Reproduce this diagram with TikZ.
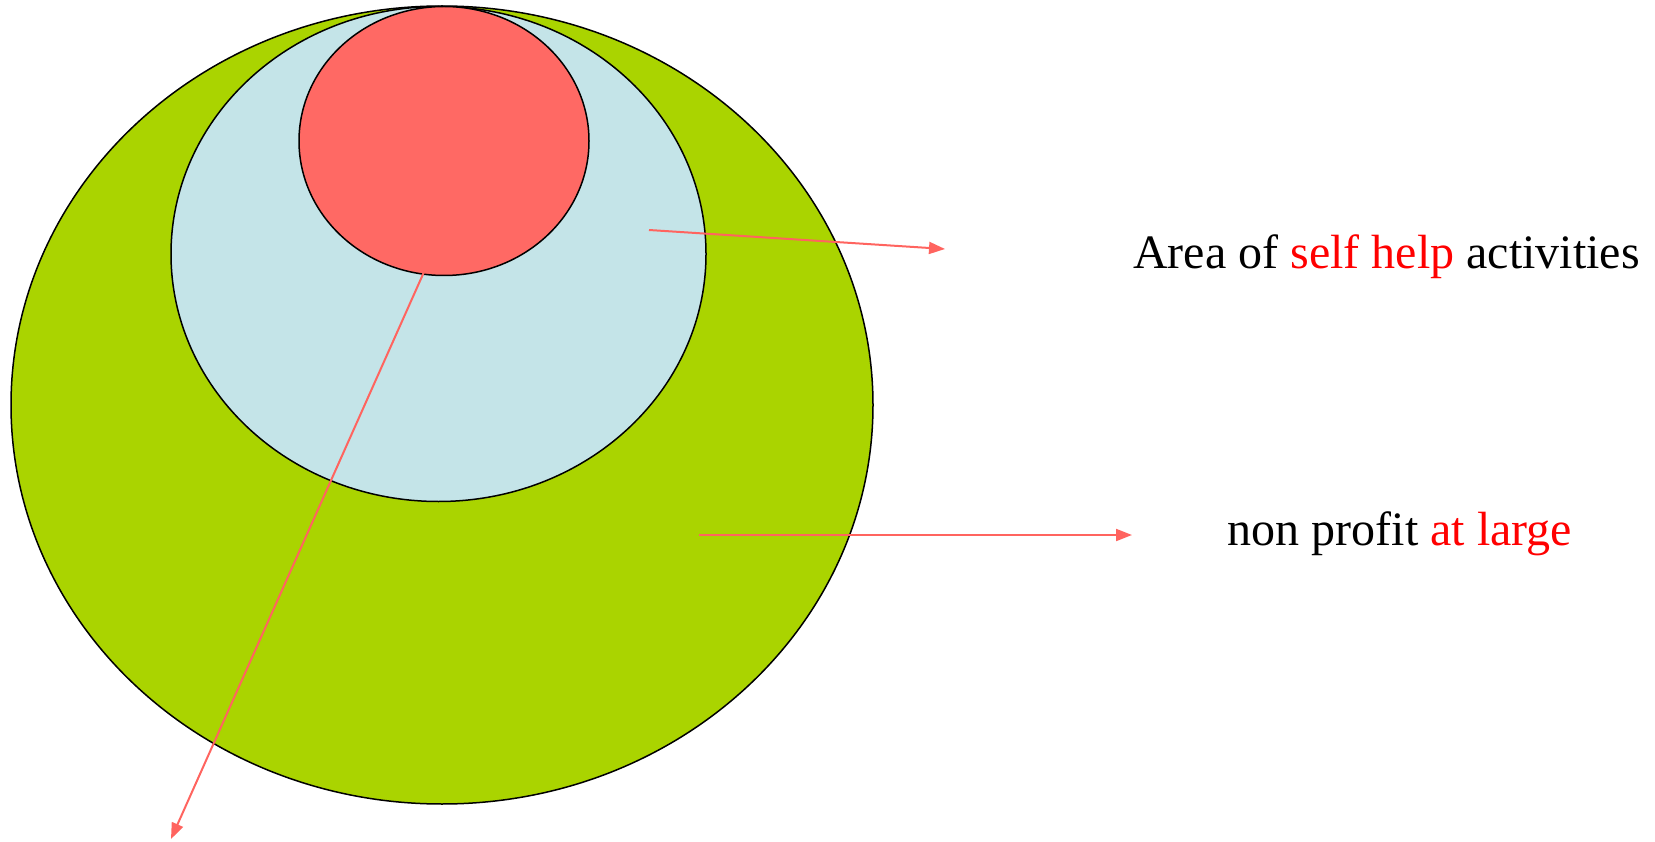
\documentclass[tikz,border=0pt]{standalone}
\usepackage{fontspec}
\setmainfont{Liberation Serif}
\usetikzlibrary{shapes.geometric,arrows.meta}
\definecolor{outergreen}{RGB}{170,212,0}
\definecolor{midblue}{RGB}{196,228,232}
\definecolor{innerred}{RGB}{255,105,100}
\definecolor{arrowred}{RGB}{255,100,95}
\definecolor{txtred}{RGB}{255,0,0}
\tikzset{
  blob/.style={ellipse, draw=black, line width=1.5pt, inner sep=0pt},
  pointer/.style={draw=arrowred, line width=2pt, -{Triangle[length=16pt,width=12pt]}},
  label/.style={anchor=base, inner sep=0pt, font=\fontsize{48}{58}\selectfont}
}
\begin{document}
\begin{tikzpicture}[x=1pt,y=-1pt]
\useasboundingbox (0,0) rectangle (1655,842);
\node[blob, fill=outergreen, minimum width=862pt, minimum height=798pt] (outer) at (442,405) {};
\node[blob, fill=midblue, minimum width=535pt, minimum height=495pt] (middle) at (438.5,254) {};
\node[blob, fill=innerred, minimum width=290pt, minimum height=269pt] (inner) at (444,141) {};
\coordinate (s1) at (649,230);
\coordinate (e1) at (945,249);
\coordinate (s2) at (699,535);
\coordinate (e2) at (1132,535);
\coordinate (s3) at (424,272);
\coordinate (e3) at (171,839);
\draw[pointer] (s1) -- (e1);
\draw[pointer] (s2) -- (e2);
\draw[pointer] (s3) -- (e3);
\node[label] (t1) at (1386.5,269) {Area of \textcolor{txtred}{self help} activities};
\node[label] (t2) at (1400,545) {non profit \textcolor{txtred}{at large}};
\end{tikzpicture}
\end{document}
